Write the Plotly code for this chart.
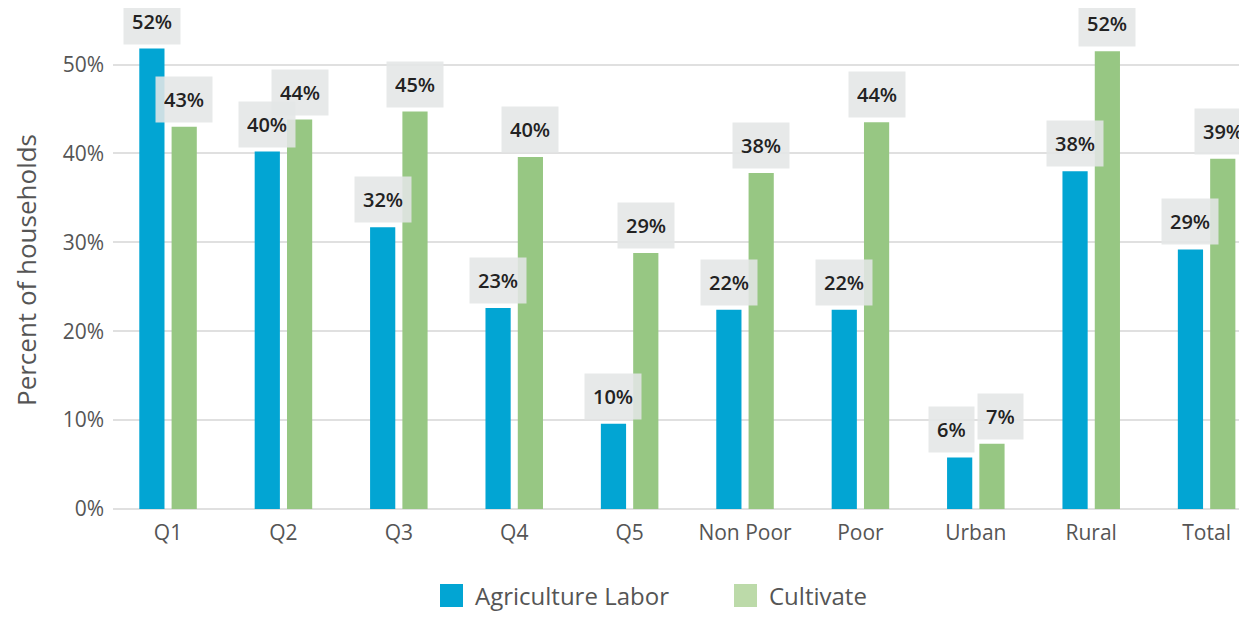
import plotly.graph_objects as go

categories = ["Q1", "Q2", "Q3", "Q4", "Q5", "Non Poor", "Poor", "Urban", "Rural", "Total"]
agri_labor = [51.8, 40.2, 31.7, 22.6, 9.6, 22.4, 22.4, 5.8, 38.0, 29.2]
cultivate = [43.0, 43.8, 44.7, 39.6, 28.8, 37.8, 43.5, 7.35, 51.5, 39.4]
series_names = ["Agriculture Labor", "Cultivate"]
y_ticks = [0, 10, 20, 30, 40, 50]
y_tick_labels = ["0%", "10%", "20%", "30%", "40%", "50%"]
y_title = "Percent of households"

BLUE = "#02a5d3"
GREEN = "#97c783"
GREEN_LEGEND = "#bcdaa9"
GRID = "#e0e0e0"
TXT = "#555555"

# the page body has an 8px margin; figure is sized to fit inside the window
OFF = 8
W, H = 1247 - OFF, 619 - OFF
ML, MR, MT, MB = 113 - OFF, 0, 0, 110
PW, PH = W - ML - MR, H - MT - MB


def px_x(px):
    return (px - OFF - ML) / PW


def px_y(py):
    return (H - MB - (py - OFF)) / PH


fig = go.Figure()
fig.add_trace(go.Bar(x=categories, y=agri_labor, name=series_names[0],
                     marker=dict(color=BLUE, line=dict(width=0)), showlegend=False))
fig.add_trace(go.Bar(x=categories, y=cultivate, name=series_names[1],
                     marker=dict(color=GREEN, line=dict(width=0)), showlegend=False))

label_font = dict(family="Open Sans, sans-serif", size=20, color="#222222", weight=600)
annotations = []
for c, a, v in zip(categories, agri_labor, cultivate):
    extra = 8 if abs(a - v) < 5 and max(a, v) < 15 else 0
    for val, shift in ((a, -16.2 - extra), (v, 16.2 + extra)):
        annotations.append(dict(
            x=c, y=val, xref="x", yref="y", text=f"{round(val):d}%",
            showarrow=False, xanchor="center", yanchor="bottom",
            xshift=shift, yshift=4,
            bgcolor="rgba(228,230,230,0.88)", borderpad=8, height=29,
            font=label_font,
        ))

# y-axis title
annotations.append(dict(x=px_x(26), y=px_y(270), xref="paper", yref="paper",
                        text=y_title, textangle=-90, showarrow=False,
                        xanchor="center", yanchor="middle",
                        font=dict(family="Open Sans, sans-serif", size=26, color=TXT,
                                  weight=500)))

# manual legend (large square swatches)
shapes = []
legend_items = [(series_names[0], BLUE, 440), (series_names[1], GREEN_LEGEND, 734)]
for name, col, x0 in legend_items:
    shapes.append(dict(type="rect", xref="paper", yref="paper",
                       x0=px_x(x0), x1=px_x(x0 + 23), y0=px_y(607), y1=px_y(584),
                       fillcolor=col, line=dict(width=0)))
    annotations.append(dict(x=px_x(x0 + 33), y=px_y(595.5), xref="paper", yref="paper",
                            text=name, showarrow=False, xanchor="left", yanchor="middle",
                            font=dict(family="Open Sans, sans-serif", size=24, color=TXT)))

fig.update_layout(
    width=W, height=H,
    margin=dict(l=ML, r=MR, t=MT, b=MB),
    paper_bgcolor="white", plot_bgcolor="white",
    barmode="group", bargap=0.44, bargroupgap=0.22,
    annotations=annotations, shapes=shapes,
    showlegend=False,
    xaxis=dict(range=[-0.477, 9.35], showgrid=False, showline=False, zeroline=False,
               ticks="", ticklabelstandoff=9, automargin=False,
               tickfont=dict(family="Open Sans, sans-serif", size=21, color=TXT)),
    yaxis=dict(range=[0, PH / 8.89], tickvals=y_ticks, ticktext=y_tick_labels,
               showgrid=True, gridcolor=GRID, gridwidth=2, zeroline=True,
               zerolinecolor=GRID, zerolinewidth=2, showline=False, ticks="",
               ticklabelstandoff=8, automargin=False,
               tickfont=dict(family="Open Sans, sans-serif", size=21, color=TXT)),
)

fig.write_html("out.html")
